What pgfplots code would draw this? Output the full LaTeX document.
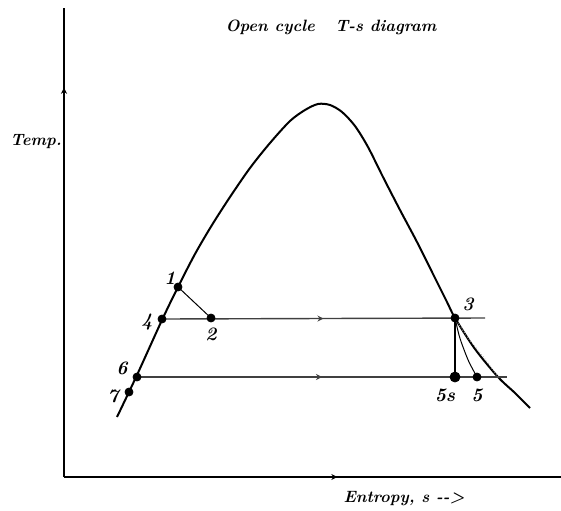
\documentclass[border=0pt]{standalone}
\usepackage{pgfplots}
\pgfplotsset{compat=1.18}
\usetikzlibrary{decorations.markings,arrows.meta}
\tikzset{midarrow/.style={postaction={decorate},decoration={markings,mark=at position #1 with {\arrow{Stealth[length=3pt,width=3pt]}}}}}
\tikzset{pt/.style={font=\bfseries\itshape\fontsize{9.5}{10}\selectfont}}
\begin{document}
\begin{tikzpicture}
\begin{axis}[
  hide axis,
  scale only axis,
  x=0.5pt, y=0.5pt,
  xmin=64, xmax=561, ymin=33, ymax=502,
  clip=false,
  font=\bfseries\itshape\fontsize{8.2}{9}\selectfont,
]
% axes
\addplot[black, line width=1.25pt, midarrow=0.83] coordinates {(64,33) (64,502)};
\addplot[black, line width=1.25pt, midarrow=0.55] coordinates {(64,33) (561,33)};
% saturation dome
\addplot[black, line width=1pt, smooth, tension=0.5] coordinates {
(117,93) (137,135) (162,190) (178,223) (195,256) (212,285) (230,313) (250,342)
(270,367) (290,389) (305,400) (318,406) (330,405) (342,398) (355,384) (368,363)
(383,333) (400,300) (417,268) (433,236) (447,208) (455,192) (475,161) (498,133)
(515,117) (530,102)};
% constant pressure lines
\addplot[black!75, line width=0.7pt, midarrow=0.5] coordinates {(162,191) (485,192)};
\addplot[black!75, line width=0.7pt, midarrow=0.5] coordinates {(137,133) (507,133)};
% 1-2 throttling
\addplot[black, line width=0.5pt] coordinates {(178,223) (211,192)};
% 3-5s isentropic
\addplot[black, line width=0.6pt] coordinates {(455,192) (455,133)};
% 3-5 actual expansion
\addplot[black, line width=0.5pt, smooth] coordinates {(455,192) (459,175) (463,163) (469,148) (477,133)};
% faint dotted
\addplot[black!30, line width=0.4pt, densely dotted, smooth] coordinates {(455,192) (468,172) (482,155) (498,133)};
% state points
\addplot[only marks, mark=*, mark size=2pt, black] coordinates {
(178,223) (162,191) (211,192) (137,133) (129,118) (455,192) (477,133)};
\addplot[only marks, mark=*, mark size=2.5pt, black] coordinates {(455,133)};
% labels
\node at (axis cs:331,483) {Open cycle\ \ \ T-s diagram};
\node at (axis cs:36,368) {Temp.};
\node at (axis cs:404,11) {Entropy, s -{}-{}>};
\node[pt] at (axis cs:170,232) {1};
\node[pt] at (axis cs:147,188) {4};
\node[pt] at (axis cs:211,176) {2};
\node[pt] at (axis cs:122,142) {6};
\node[pt] at (axis cs:113,114) {7};
\node[pt] at (axis cs:468,206) {3};
\node[pt] at (axis cs:445,115) {5s};
\node[pt] at (axis cs:477,115) {5};
\coordinate (ll) at (axis cs:0,0);
\coordinate (ur) at (axis cs:561,510);
\end{axis}
\pgfresetboundingbox
\path[use as bounding box] (ll) rectangle (ur);
\end{tikzpicture}
\end{document}
